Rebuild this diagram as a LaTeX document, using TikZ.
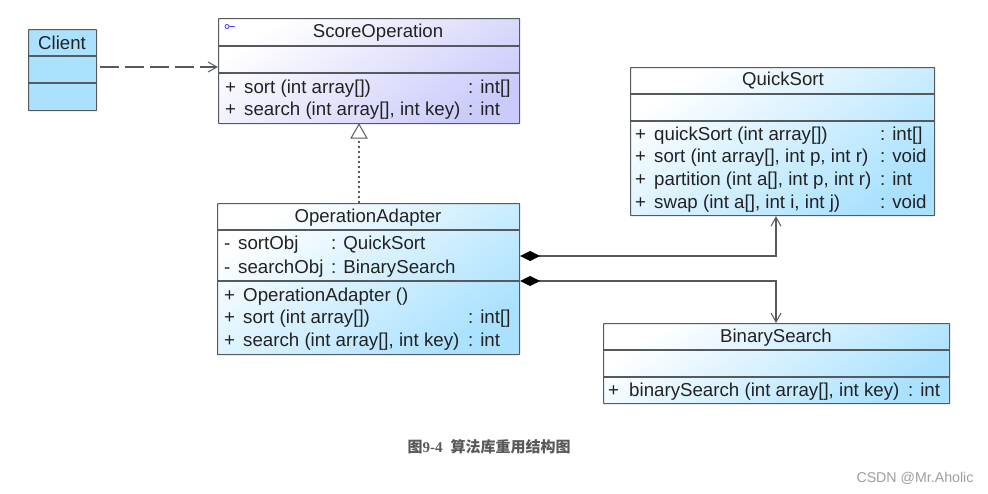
\documentclass[tikz,border=0pt]{standalone}
\usepackage{fontspec}
\setmainfont{Liberation Sans}
\newfontfamily\cjk{Noto Sans CJK SC}
\newfontfamily\capserif{Liberation Serif}
\usetikzlibrary{arrows.meta}
\definecolor{ink}{HTML}{222222}
\definecolor{rule}{HTML}{555A5D}
\definecolor{skyblue}{HTML}{A9E1FF}
\definecolor{lavender}{HTML}{CBCBFB}
\tikzset{
  x=1pt,y=-1pt,
  umlbox/.style={draw=rule,line width=1.2pt,anchor=north west,inner sep=0pt,rounded corners=0.6pt},
  bluebox/.style={umlbox,top color=white,bottom color=skyblue,shading angle=35},
  violetbox/.style={umlbox,top color=white,bottom color=lavender,shading angle=35},
  flatbox/.style={umlbox,fill=skyblue},
  divider/.style={draw=rule,line width=1.2pt},
  title/.style={font=\fontsize{18.6}{20}\selectfont,text=ink,inner sep=0pt},
  member/.style={font=\fontsize{18.7}{20}\selectfont,text=ink,inner sep=0pt,anchor=base west},
  link/.style={draw=rule,line width=1.1pt},
  openhead/.style={-{Straight Barb[length=9pt,width=10pt,line width=1pt]}},
  whole/.style={{Diamond[length=20pt,width=10pt,fill=black,color=black]}-{Straight Barb[length=9pt,width=10pt,line width=1pt]}},
}
\begin{document}
\begin{tikzpicture}
\useasboundingbox (0,0) rectangle (988,493);

% Client
\node[flatbox,minimum width=68pt,minimum height=81pt] (client) at (28,29) {};
\path[divider] (28,56) -- (96,56);
\path[divider] (28,83) -- (96,83);
\node[title] (clientName) at (62,43) {Client};

% ScoreOperation
\node[violetbox,minimum width=301pt,minimum height=105pt] (score) at (218,18) {};
\path[divider] (218,46) -- (519,46);
\path[divider] (218,73) -- (519,73);
\node[title] (scoreName) at (378,33) {ScoreOperation};
\draw[draw=blue!70,line width=0.9pt,fill=white] (227,26.5) circle (2pt);
\draw[draw=blue!70,line width=1pt] (229,26.5) -- (235,26.5);
\node[member] (sa) at (225,93) {+};
\node[member] (sb) at (244,93) {sort (int array[])};
\node[member] (sc) at (468,93) {: int[]};
\node[member] (sd) at (225,115) {+};
\node[member] (se) at (244,115) {search (int array[], int key)};
\node[member] (sf) at (468,115) {: int};

% OperationAdapter
\node[bluebox,minimum width=302pt,minimum height=151pt] (adapter) at (217,203) {};
\path[divider] (217,230) -- (519,230);
\path[divider] (217,281) -- (519,281);
\node[title] (adapterName) at (368,217.5) {OperationAdapter};
\node[member] (aa) at (224,249) {-};
\node[member] (ab) at (238,249) {sortObj};
\node[member] (ac) at (331,249) {: QuickSort};
\node[member] (ad) at (224,273) {-};
\node[member] (ae) at (238,273) {searchObj};
\node[member] (af) at (331,273) {: BinarySearch};
\node[member] (ag) at (224,301) {+};
\node[member] (ah) at (243,301) {OperationAdapter ()};
\node[member] (ai) at (224,323) {+};
\node[member] (aj) at (243,323) {sort (int array[])};
\node[member] (ak) at (468,323) {: int[]};
\node[member] (al) at (224,346) {+};
\node[member] (am) at (243,346) {search (int array[], int key)};
\node[member] (an) at (468,346) {: int};

% QuickSort
\node[bluebox,minimum width=304pt,minimum height=148pt] (quick) at (630,67) {};
\path[divider] (630,94) -- (934,94);
\path[divider] (630,121) -- (934,121);
\node[title] (quickName) at (783,81) {QuickSort};
\node[member] (qa) at (635,140) {+};
\node[member] (qb) at (654,140) {quickSort (int array[])};
\node[member] (qc) at (880,140) {: int[]};
\node[member] (qd) at (635,162) {+};
\node[member] (qe) at (654,162) {sort (int array[], int p, int r)};
\node[member] (qf) at (880,162) {: void};
\node[member] (qg) at (635,185) {+};
\node[member] (qh) at (654,185) {partition (int a[], int p, int r)};
\node[member] (qi) at (880,185) {: int};
\node[member] (qj) at (635,208) {+};
\node[member] (qk) at (654,208) {swap (int a[], int i, int j)};
\node[member] (ql) at (880,208) {: void};

% BinarySearch
\node[bluebox,minimum width=346pt,minimum height=80pt] (binary) at (603,323) {};
\path[divider] (603,350) -- (949,350);
\path[divider] (603,377) -- (949,377);
\node[title] (binaryName) at (776,337.5) {BinarySearch};
\node[member] (ba) at (608,396) {+};
\node[member] (bb) at (629,396) {binarySearch (int array[], int key)};
\node[member] (bc) at (908,396) {: int};

% Relationship anchors
\coordinate (depStart) at (100,67);
\coordinate (realX) at (359,0);
\coordinate (sortY) at (0,256);
\coordinate (searchY) at (0,281);
\coordinate (targetX) at (776,0);

% Dependency
\draw[link,dash pattern=on 19pt off 6pt,openhead] (depStart) -- (score.west |- depStart);
% Realization
\draw[link,dash pattern=on 2.5pt off 2.5pt] (adapter.north -| realX) -- ([yshift=-14pt]score.south -| realX);
\draw[draw=rule,line width=1pt,fill=white] (score.south -| realX) -- ++(-8,14) -- ++(16,0) -- cycle;
% Composition
\draw[link,whole] (adapter.east |- sortY) -| (quick.south -| targetX);
\draw[link,whole] (adapter.east |- searchY) -| (binary.north -| targetX);

% Caption and credit
\node[inner sep=0pt,text=black!65,font=\fontsize{15}{18}\selectfont\bfseries] (caption) at (489,447) {{\cjk 图}{\capserif 9-4}\hspace{8pt}{\cjk 算法库重用结构图}};
\node[inner sep=0pt,text=black!38,font=\fontsize{14.2}{16}\selectfont] (credit) at (915,478) {CSDN @Mr.Aholic};
\end{tikzpicture}
\end{document}
